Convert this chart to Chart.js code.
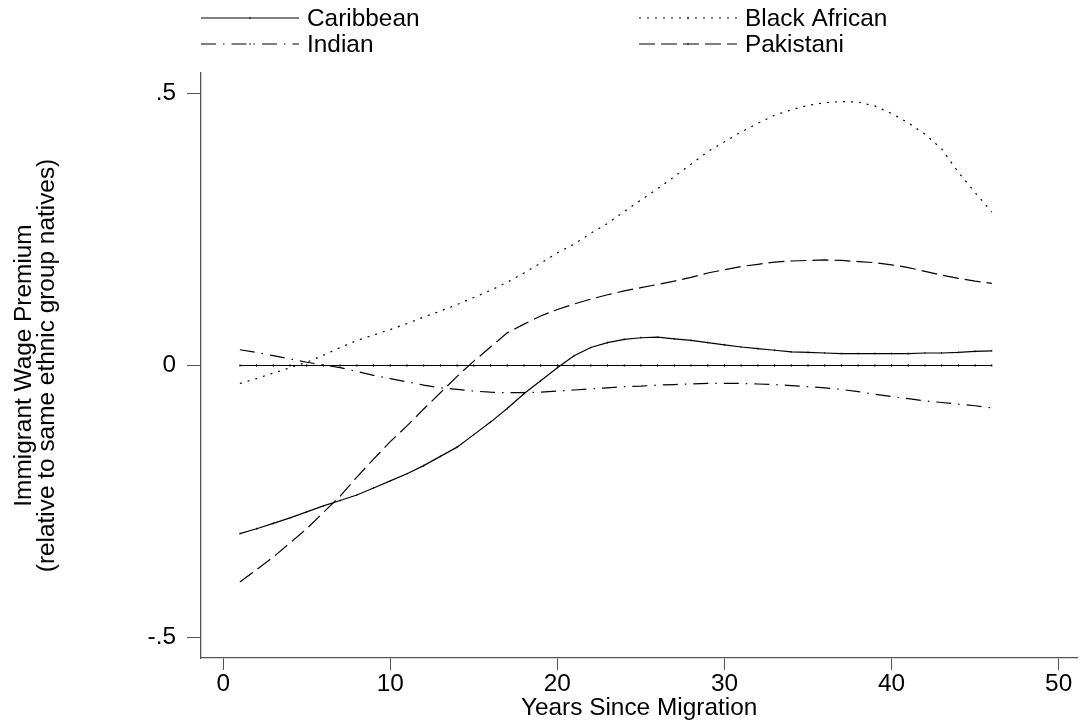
<!DOCTYPE html>
<html><head><meta charset="utf-8">
<script src="https://cdn.jsdelivr.net/npm/chart.js@4/dist/chart.umd.min.js"></script>
<style>html,body{margin:0;padding:0;background:#fff}#wrap{width:1082px;height:726px;position:relative}canvas{display:block}</style>
</head><body><div id="wrap"><canvas id="c" width="1082" height="726"></canvas></div>
<script>
const years = [1,2,3,4,5,6,7,8,9,10,11,12,13,14,15,16,17,18,19,20,21,22,23,24,25,26,27,28,29,30,31,32,33,34,35,36,37,38,39,40,41,42,43,44,45,46];
const caribbean = [-0.309,-0.300,-0.290,-0.280,-0.269,-0.258,-0.248,-0.238,-0.225,-0.212,-0.199,-0.184,-0.167,-0.150,-0.127,-0.104,-0.079,-0.052,-0.028,-0.004,0.018,0.033,0.042,0.048,0.051,0.052,0.049,0.046,0.042,0.038,0.034,0.031,0.028,0.025,0.024,0.023,0.022,0.022,0.022,0.022,0.022,0.023,0.023,0.024,0.026,0.027];
const blackAfrican = [-0.033,-0.024,-0.014,-0.004,0.006,0.019,0.033,0.046,0.056,0.066,0.077,0.089,0.100,0.112,0.125,0.138,0.153,0.170,0.188,0.207,0.223,0.243,0.261,0.283,0.304,0.325,0.347,0.370,0.393,0.411,0.429,0.445,0.460,0.470,0.478,0.483,0.485,0.484,0.477,0.463,0.446,0.425,0.398,0.355,0.318,0.282];
const indian = [0.029,0.024,0.018,0.012,0.006,0.001,-0.004,-0.011,-0.018,-0.024,-0.030,-0.036,-0.041,-0.044,-0.047,-0.049,-0.050,-0.050,-0.049,-0.047,-0.045,-0.043,-0.041,-0.039,-0.038,-0.036,-0.035,-0.034,-0.033,-0.033,-0.033,-0.034,-0.035,-0.037,-0.039,-0.041,-0.044,-0.048,-0.053,-0.057,-0.061,-0.065,-0.068,-0.071,-0.074,-0.078];
const pakistani = [-0.398,-0.375,-0.352,-0.326,-0.300,-0.270,-0.240,-0.205,-0.172,-0.140,-0.111,-0.080,-0.050,-0.020,0.008,0.034,0.060,0.076,0.091,0.103,0.113,0.122,0.130,0.137,0.143,0.149,0.155,0.162,0.170,0.176,0.182,0.186,0.190,0.192,0.193,0.194,0.193,0.191,0.189,0.185,0.180,0.173,0.166,0.160,0.155,0.151];
const zeroLine = years.map(() => 0);
const seriesLabels = ['Caribbean','Black African','Indian','Pakistani'];
const xTicks = [0,10,20,30,40,50];
const yTicks = [-0.5,0,0.5];
const xTitle = 'Years Since Migration';
const yTitle = ['Immigrant Wage Premium','(relative to same ethnic group natives)'];

const FONT = "'Liberation Sans', Arial, Helvetica, sans-serif";
const FS = 24.4;
const toXY = arr => years.map((x,i) => ({x, y: arr[i]}));
function ds(label, arr, dash, legend, pr){
  return {label, data: toXY(arr), borderColor:'#000', backgroundColor:'#000', borderWidth:1.2,
    borderDash: dash, pointStyle:'line', pointRotation:90, pointRadius:pr, pointBorderWidth:0.8,
    pointBorderColor:'#000', tension:0, fill:false, showInLegend: legend};
}
const datasets = [
  ds(seriesLabels[0], caribbean, [], true, 1.0),
  ds(seriesLabels[1], blackAfrican, [2,6], true, 0),
  ds(seriesLabels[2], indian, [15,7,1.5,7], true, 0),
  ds(seriesLabels[3], pakistani, [16,6], true, 0),
  ds('', zeroLine, [], false, 1.4)
];

const legendPlugin = {
  id:'stataLegend',
  afterDraw(chart){
    const ctx = chart.ctx;
    const spots = [[201,18],[639,18],[201,44],[639,44]];
    ctx.save();
    ctx.font = FS + 'px ' + FONT;
    ctx.textBaseline = 'middle';
    ctx.fillStyle = '#000';
    chart.data.datasets.forEach((d,i) => {
      if (!d.showInLegend) return;
      const [x,y] = spots[i];
      ctx.strokeStyle = '#000';
      ctx.lineWidth = 1.2;
      ctx.setLineDash(d.borderDash);
      ctx.beginPath(); ctx.moveTo(x,y); ctx.lineTo(x+98,y); ctx.stroke();
      ctx.setLineDash([]);
      ctx.lineWidth = 0.8;
      ctx.beginPath(); ctx.moveTo(x+49,y-1.2); ctx.lineTo(x+49,y+1.2); ctx.stroke();
      ctx.fillText(d.label, x+106, y+1);
    });
    ctx.restore();
  }
};

new Chart(document.getElementById('c'), {
  type:'line',
  data:{datasets},
  plugins:[legendPlugin],
  options:{
    responsive:false, devicePixelRatio:1, animation:false,
    layout:{padding:{top:73,left:0,right:0,bottom:0}},
    plugins:{legend:{display:false}, tooltip:{enabled:false}},
    scales:{
      x:{type:'linear', min:-1.327, max:51.11,
        afterBuildTicks: s => { s.ticks = xTicks.map(v => ({value:v})); },
        afterFit: s => { s.height = 68; },
        grid:{drawOnChartArea:false, drawTicks:true, tickLength:12, color:'#555', lineWidth:1},
        border:{display:true, color:'#555', width:1.3},
        ticks:{color:'#000', font:{family:FONT, size:FS}, padding:0, maxRotation:0, autoSkip:false},
        title:{display:true, text:xTitle, color:'#000', font:{family:FONT, size:FS, lineHeight:1.0}, padding:{top:0,bottom:6}}
      },
      y:{type:'linear', min:-0.5375, max:0.5375,
        afterBuildTicks: s => { s.ticks = yTicks.map(v => ({value:v})); },
        afterFit: s => { s.width = 201; },
        grid:{drawOnChartArea:false, drawTicks:true, tickLength:14, color:'#555', lineWidth:1},
        border:{display:true, color:'#555', width:1.3},
        ticks:{color:'#000', font:{family:FONT, size:FS}, padding:11,
          callback: v => v === 0 ? '0' : String(v).replace('0.', '.')},
        title:{display:true, text:yTitle, color:'#000', font:{family:FONT, size:FS, lineHeight:0.95}, padding:{top:13,bottom:0}}
      }
    }
  }
});
</script>
</body></html>
